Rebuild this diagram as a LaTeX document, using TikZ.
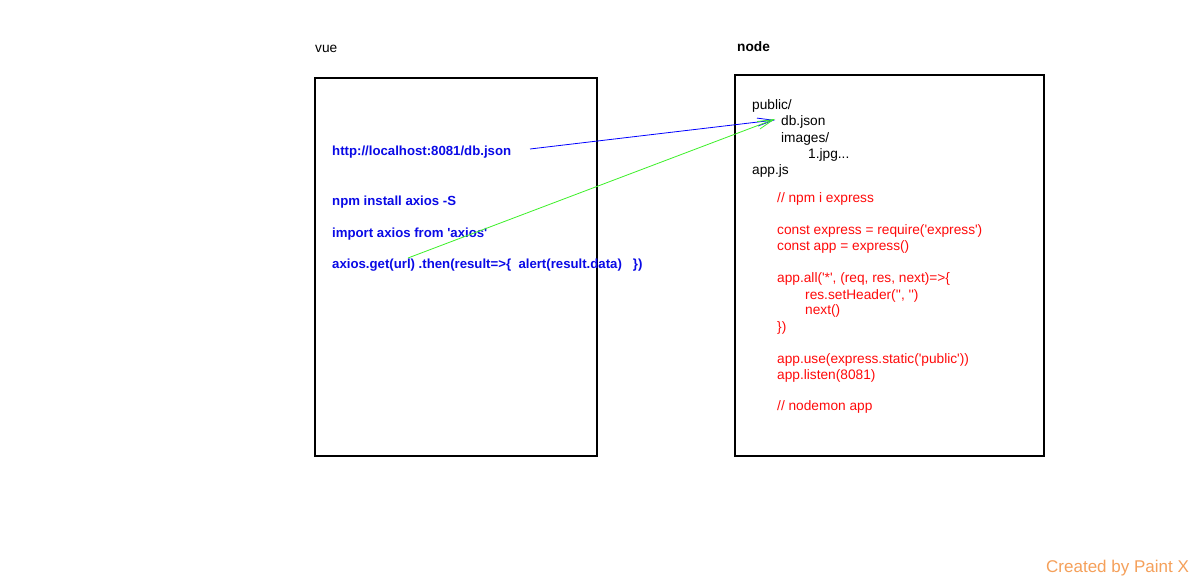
\documentclass[tikz,border=0pt]{standalone}
\usepackage{fontspec}
\setmainfont{Liberation Sans}[Ligatures=TeXOff]
\usepackage{tikz}
\usetikzlibrary{arrows.meta}
\definecolor{codeblue}{RGB}{10,10,230}
\definecolor{codered}{RGB}{255,10,10}
\definecolor{linkgreen}{RGB}{60,240,40}
\definecolor{paintorange}{RGB}{245,160,90}
\tikzset{
    every node/.style={inner sep=0pt,anchor=base west,font=\fontsize{13.7}{16}\selectfont},
    panel/.style={draw,line width=1.6pt,},
    vuecode/.style={text=codeblue,font=\fontsize{13.2}{16}\selectfont\bfseries},
    nodecode/.style={text=codered,},
    link/.style={line width=0.8pt,-{Straight Barb[length=16pt,width=8pt,angle'=28]},},
}

\begin{document}
\begin{tikzpicture}[x=1pt,y=-1pt]
                \useasboundingbox (0,0) rectangle (1200,580);
                \fill[white] (0,0) rectangle (1200,580);

                % vue side
                \node (vue_title) at (315,53) {vue};
                \draw[panel] (315,78) rectangle (597,456);
                \node[vuecode] (url) at (332,156) {http://localhost:8081/db.json};
                \node[vuecode] (npm) at (332,206) {npm install axios -S};
                \node[vuecode] (import) at (332,238) {import axios from 'axios'};
                \node[vuecode] (get) at (332,269) {axios.get(url) .then(result=>\{\ \ alert(result.data)\ \ \ \})};
                \coordinate (get_mid) at (408,258);

                % node side
                \node[font=\fontsize{13.7}{16}\selectfont\bfseries] (node_title) at (737,52) {node};
                \draw[panel] (735,75) rectangle (1044,456);
                \node (public) at (752,110) {public/};
                \node (db) at (781,126) {db.json};
                \node (images) at (781,143) {images/};
                \node (jpg) at (808,159) {1.jpg...};
                \node (appjs) at (752,175) {app.js};

                \node[nodecode] (npm_i) at (777,203) {// npm i express};
                \node[nodecode] (require) at (777,235) {const express = require('express')};
                \node[nodecode] (app) at (777,251) {const app = express()};
                \node[nodecode] (all) at (777,283) {app.all('*', (req, res, next)=>\{};
                \node[nodecode] (header) at (805,299) {res.setHeader('', '')};
                \node[nodecode] (next) at (805,315) {next()};
                \node[nodecode] (close) at (777,331) {\})};
                \node[nodecode] (use) at (777,363) {app.use(express.static('public'))};
                \node[nodecode] (listen) at (777,379) {app.listen(8081)};
                \node[nodecode] (nodemon) at (777,410) {// nodemon app};

                \coordinate (db_in) at (775,120);
                \draw[link,blue] (530,149) to (db_in);
                \draw[link,linkgreen] (get_mid) to ([yshift=1pt]db_in);

                \node[text=paintorange,font=\fontsize{17}{19}\selectfont] (paint) at (1046,572) {Created by Paint X};
            \end{tikzpicture}
\end{document}
